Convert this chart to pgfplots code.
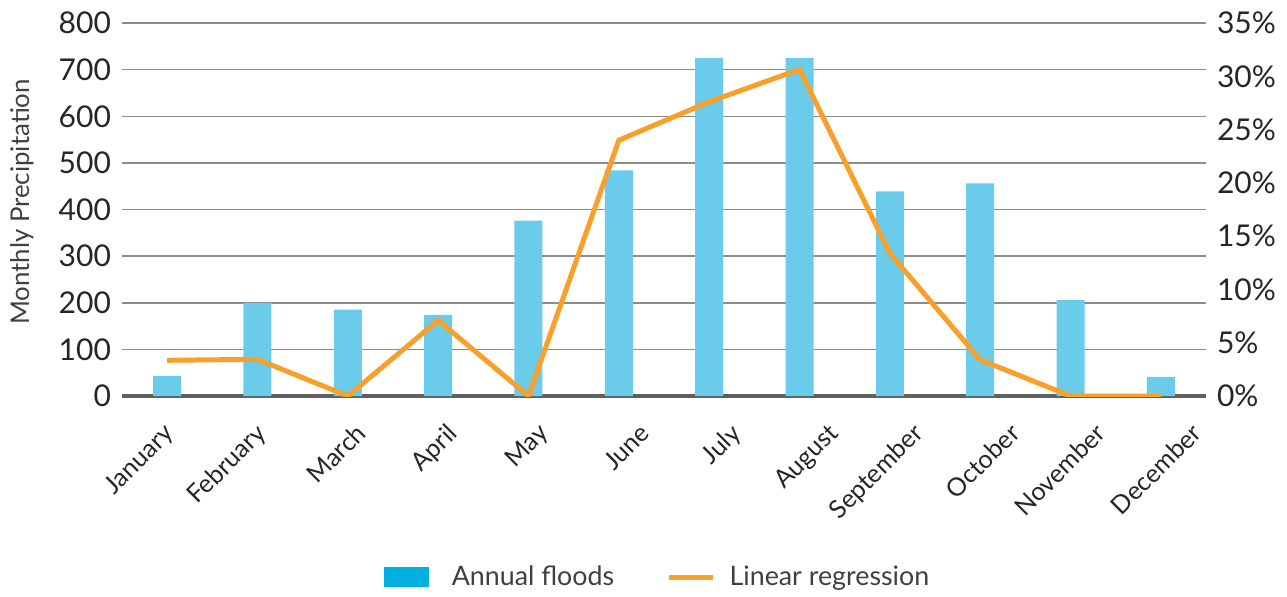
\documentclass[border=0pt]{standalone}
\usepackage{fontspec}
\setmainfont{Lato}
\usepackage{pgfplots}
\pgfplotsset{compat=1.18}
\definecolor{barblue}{HTML}{6BCBEA}
\definecolor{legblue}{HTML}{00B0E0}
\definecolor{lineor}{HTML}{F9A02A}
\definecolor{gridgray}{HTML}{8C8C8C}
\definecolor{zerogray}{HTML}{5F5F5F}
\definecolor{txt}{HTML}{262626}
\definecolor{labtxt}{HTML}{404040}
\begin{document}
\begin{tikzpicture}
\useasboundingbox (-61pt,-100pt) rectangle (582.5pt,198pt);
\begin{axis}[
  at={(0pt,0pt)}, anchor=south west,
  scale only axis, width=542pt, height=186.5pt,
  xmin=-0.5, xmax=11.5, ymin=0, ymax=800,
  ytick={0,100,...,800},
  ymajorgrids, grid style={gridgray, line width=0.75pt},
  axis x line*=bottom, axis y line*=left,
  y axis line style={draw=none},
  x axis line style={zerogray, line width=2pt},
  major tick length=0pt,
  xtick={-0.34,0.68,1.79,2.80,3.81,4.93,5.94,7.02,7.96,9.03,9.98,11.04},
  xticklabels={January,February,March,April,May,June,July,August,September,October,November,December},
  xticklabel style={rotate=45, anchor=north east, inner sep=0pt, yshift=-18pt, font=\fontsize{12.6}{14}\selectfont, text=txt},
  yticklabel style={font=\fontsize{15}{17}\selectfont, text=txt, xshift=-2pt},
  /pgf/number format/assume math mode=true,
  ylabel={Monthly Precipitation},
  ylabel style={at={(axis description cs:-0.092,0.52)}, anchor=center, font=\fontsize{12.9}{14}\selectfont, text=labtxt},
  ybar, bar width=14pt,
]
\addplot[fill=barblue, draw=none] coordinates {(0,43) (1,200) (2,185) (3,174) (4,376) (5,484) (6,725) (7,725) (8,439) (9,456) (10,206) (11,41)};
\end{axis}
\begin{axis}[
  at={(0pt,0pt)}, anchor=south west,
  scale only axis, width=542pt, height=186.5pt,
  xmin=-0.5, xmax=11.5, ymin=0, ymax=35,
  axis x line=none, axis y line*=right,
  y axis line style={draw=none},
  major tick length=0pt,
  ytick={0,5,...,35},
  yticklabels={0\%,5\%,10\%,15\%,20\%,25\%,30\%,35\%},
  yticklabel style={font=\fontsize{15}{17}\selectfont, text=txt, xshift=2pt},
  legend columns=2,
  legend style={draw=none, fill=none, at={(0.495,0)}, anchor=center, yshift=-90.5pt,
    font=\fontsize{13.4}{15}\selectfont, text=labtxt,
    /tikz/every even column/.append style={column sep=24pt}},
  legend cell align=left,
]
\addlegendimage{legend image code/.code={\fill[legblue, draw=none] (0pt,-5pt) rectangle (22.5pt,5pt); \path[draw=none, fill=none] (0pt,0pt) rectangle (32pt,0pt);}}
\addlegendentry{Annual floods}
\addplot[lineor, line width=2.5pt, legend image code/.code={\draw[lineor, line width=2.5pt] (0pt,0pt) -- (22pt,0pt); \path[draw=none, fill=none] (0pt,0pt) rectangle (28.5pt,0pt);}] coordinates {(0,3.35) (1,3.44) (2,0) (3,7.1) (4,0) (5,24.0) (6,27.6) (7,30.65) (8,13.4) (9,3.4) (10,0) (11,0)};
\addlegendentry{Linear regression}
\end{axis}
\end{tikzpicture}
\end{document}
